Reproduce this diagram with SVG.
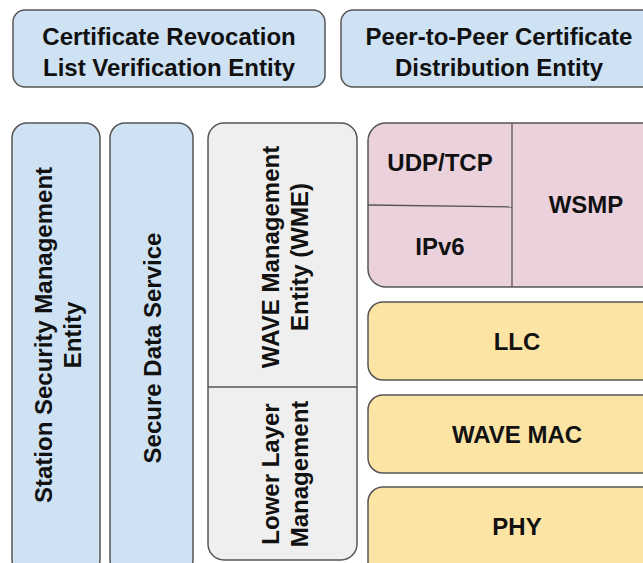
<svg xmlns="http://www.w3.org/2000/svg" width="643" height="563" viewBox="0 0 643 563">
<style>
  .box { stroke: #555555; stroke-width: 1.5; }
  .blue { fill: #cfe2f3; }
  .grey { fill: #efefef; }
  .pink { fill: #ead1dc; }
  .yellow { fill: #fce5a4; }
  .div { stroke: #555555; stroke-width: 1.3; fill: none; }
  text { font-family: "Liberation Sans", Arial, sans-serif; font-weight: bold; font-size: 24px; fill: #111111; text-anchor: middle; }
</style>
<rect width="643" height="563" fill="#ffffff"/>

<g id="crl-entity">
  <rect class="box blue" x="13" y="10" width="312" height="77" rx="12"/>
  <text x="169" y="45">Certificate Revocation</text>
  <text x="169" y="76">List Verification Entity</text>
</g>

<g id="p2p-entity">
  <rect class="box blue" x="341" y="10" width="318" height="77" rx="12"/>
  <text x="499" y="45">Peer-to-Peer Certificate</text>
  <text x="499" y="76">Distribution Entity</text>
</g>

<g id="ssme">
  <rect class="box blue" x="12" y="123" width="88" height="452" rx="15"/>
  <text transform="translate(52,335) rotate(-90)">Station Security Management</text>
  <text transform="translate(81,335) rotate(-90)">Entity</text>
</g>

<g id="secure-data-service">
  <rect class="box blue" x="110" y="123" width="83" height="452" rx="15"/>
  <text transform="translate(161,348) rotate(-90)">Secure Data Service</text>
</g>

<g id="wme">
  <rect class="box grey" x="208" y="123" width="149" height="437" rx="16"/>
  <line class="div" x1="208" y1="387" x2="357" y2="387"/>
  <text transform="translate(279,257) rotate(-90)">WAVE Management</text>
  <text transform="translate(308,257) rotate(-90)">Entity (WME)</text>
</g>

<g id="lower-layer-management">
  <text transform="translate(279,474) rotate(-90)">Lower Layer</text>
  <text transform="translate(308,474) rotate(-90)">Management</text>
</g>

<g id="network-layer">
  <rect class="box pink" x="368" y="123" width="297" height="164" rx="18"/>
  <line class="div" x1="512" y1="123" x2="512" y2="287"/>
  <line class="div" x1="368" y1="205" x2="512" y2="207"/>
</g>
<g id="udp-tcp"><text x="440" y="171">UDP/TCP</text></g>
<g id="ipv6"><text x="440" y="255">IPv6</text></g>
<g id="wsmp"><text x="586" y="213">WSMP</text></g>

<g id="llc">
  <rect class="box yellow" x="368" y="302" width="297" height="78" rx="15"/>
  <text x="517" y="350">LLC</text>
</g>

<g id="wave-mac">
  <rect class="box yellow" x="368" y="395" width="297" height="78" rx="15"/>
  <text x="517" y="443">WAVE MAC</text>
</g>

<g id="phy">
  <rect class="box yellow" x="368" y="487" width="297" height="90" rx="15"/>
  <text x="517" y="535">PHY</text>
</g>

<g id="connectors"></g>
</svg>
